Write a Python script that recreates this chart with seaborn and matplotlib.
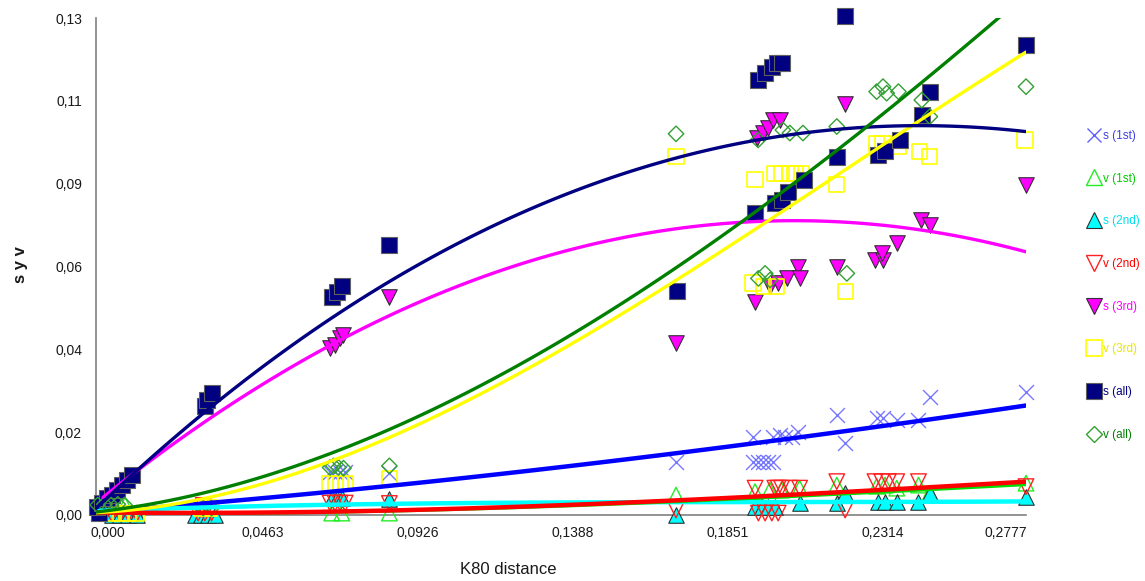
import matplotlib
matplotlib.use('Agg')
import matplotlib.pyplot as plt
import matplotlib.transforms as mtransforms
from matplotlib.lines import Line2D
import numpy as np
import seaborn as sns

# Scatter values (K80 distance, s or v)
s1_x = [0.0005, 0.0020, 0.0040, 0.0699, 0.0714, 0.0729, 0.0744, 0.0876, 0.1732,
        0.1963, 0.2022, 0.2042, 0.2057, 0.2077, 0.2097, 0.1963, 0.1978, 0.1993,
        0.2008, 0.2022, 0.2212, 0.2237, 0.2331, 0.2351, 0.2391, 0.2456, 0.2490, 0.2777]
s1_y = [0.0005, 0.0005, 0.0005, 0.0112, 0.0112, 0.0112, 0.0112, 0.0109, 0.0139,
        0.0204, 0.0204, 0.0209, 0.0204, 0.0204, 0.0217, 0.0139, 0.0139, 0.0139,
        0.0139, 0.0139, 0.0261, 0.0187, 0.0252, 0.0252, 0.0248, 0.0248, 0.0309, 0.0322]

v1_x = [0.0050, 0.0087, 0.0120, 0.0704, 0.0734, 0.0876, 0.1732, 0.1968, 0.2012,
        0.2047, 0.2101, 0.2212, 0.2331, 0.2356, 0.2391, 0.2456, 0.2490, 0.2777]
v1_y = [0.0005, 0.0026, 0.0005, 0.0005, 0.0005, 0.0005, 0.0052, 0.0061, 0.0065,
        0.0065, 0.0070, 0.0078, 0.0075, 0.0078, 0.0070, 0.0078, 0.0057, 0.0083]

s2_x = [0.0047, 0.0072, 0.0097, 0.0122, 0.0295, 0.0315, 0.0335, 0.0355, 0.0704,
        0.0719, 0.0734, 0.0876, 0.1732, 0.1968, 0.1988, 0.2008, 0.2027, 0.2101,
        0.2212, 0.2237, 0.2336, 0.2356, 0.2391, 0.2456, 0.2490, 0.2777]
s2_y = [0.0000, 0.0000, 0.0000, 0.0000, 0.0000, 0.0000, 0.0000, 0.0000, 0.0044,
        0.0044, 0.0044, 0.0042, 0.0000, 0.0021, 0.0021, 0.0021, 0.0021, 0.0030,
        0.0030, 0.0057, 0.0035, 0.0035, 0.0035, 0.0035, 0.0057, 0.0048]

v2_x = [0.0047, 0.0072, 0.0097, 0.0122, 0.0305, 0.0320, 0.0325, 0.0345, 0.0699,
        0.0714, 0.0729, 0.0744, 0.0876, 0.1732, 0.1968, 0.2027, 0.2037, 0.2047,
        0.2072, 0.2101, 0.1978, 0.1998, 0.2018, 0.2037, 0.2212, 0.2237, 0.2326,
        0.2346, 0.2366, 0.2391, 0.2456, 0.2777]
v2_y = [0.0003, 0.0003, 0.0003, 0.0003, 0.0005, 0.0025, 0.0005, 0.0005, 0.0031,
        0.0031, 0.0031, 0.0031, 0.0030, 0.0013, 0.0070, 0.0070, 0.0070, 0.0070,
        0.0070, 0.0070, 0.0005, 0.0005, 0.0005, 0.0005, 0.0087, 0.0013, 0.0087,
        0.0087, 0.0087, 0.0087, 0.0087, 0.0074]

s3_x = [0.0017, 0.0062, 0.0092, 0.0699, 0.0714, 0.0729, 0.0738, 0.0876, 0.1732,
        0.1973, 0.1993, 0.2007, 0.2022, 0.2042, 0.1968, 0.2012, 0.2037, 0.2062,
        0.2097, 0.2101, 0.2212, 0.2237, 0.2326, 0.2351, 0.2346, 0.2391, 0.2463,
        0.2490, 0.2777]
s3_y = [0.0026, 0.0052, 0.0083, 0.0435, 0.0443, 0.0461, 0.0469, 0.0569, 0.0449,
        0.0982, 0.0995, 0.1009, 0.1030, 0.1030, 0.0556, 0.0598, 0.0604, 0.0618,
        0.0648, 0.0618, 0.0648, 0.1073, 0.0665, 0.0665, 0.0683, 0.0709, 0.0769,
        0.0756, 0.0861]

v3_x = [0.0047, 0.0072, 0.0097, 0.0122, 0.0315, 0.0340, 0.0699, 0.0714, 0.0729,
        0.0744, 0.0876, 0.1732, 0.1968, 0.2027, 0.2047, 0.2072, 0.2087, 0.2107,
        0.2212, 0.1962, 0.1992, 0.2033, 0.2237, 0.2331, 0.2350, 0.2396, 0.2460,
        0.2490, 0.2774]
v3_y = [0.0003, 0.0003, 0.0003, 0.0003, 0.0018, 0.0018, 0.0083, 0.0083, 0.0083,
        0.0083, 0.0096, 0.0934, 0.0874, 0.0891, 0.0891, 0.0891, 0.0891, 0.0891,
        0.0861, 0.0605, 0.0595, 0.0595, 0.0582, 0.0969, 0.0969, 0.0960, 0.0948,
        0.0934, 0.0978]

sall_x = [0.0010, 0.0002, 0.0017, 0.0032, 0.0047, 0.0062, 0.0077, 0.0092, 0.0107,
          0.0325, 0.0332, 0.0345, 0.0704, 0.0721, 0.0736, 0.0876, 0.1734, 0.1978,
          0.1998, 0.2018, 0.2033, 0.2048, 0.1968, 0.2027, 0.2047, 0.2067, 0.2113,
          0.2237, 0.2212, 0.2336, 0.2356, 0.2401, 0.2466, 0.2490, 0.2777]
sall_y = [0.0005, 0.0021, 0.0031, 0.0044, 0.0052, 0.0065, 0.0078, 0.0091, 0.0104,
          0.0285, 0.0300, 0.0318, 0.0568, 0.0582, 0.0597, 0.0704, 0.0585, 0.1134,
          0.1152, 0.1169, 0.1178, 0.1178, 0.0787, 0.0813, 0.0822, 0.0843, 0.0874,
          0.1300, 0.0934, 0.0939, 0.0948, 0.0978, 0.1043, 0.1104, 0.1226]

vall_x = [0.0005, 0.0025, 0.0045, 0.0065, 0.0085, 0.0320, 0.0345, 0.0699, 0.0709,
          0.0724, 0.0739, 0.0876, 0.1732, 0.1977, 0.2051, 0.2072, 0.2111, 0.1998,
          0.1978, 0.2013, 0.2242, 0.2212, 0.2331, 0.2350, 0.2361, 0.2396, 0.2466,
          0.2490, 0.2777]
vall_y = [0.0026, 0.0028, 0.0026, 0.0028, 0.0026, 0.0018, 0.0018, 0.0124, 0.0128,
          0.0124, 0.0122, 0.0128, 0.0994, 0.0978, 0.1004, 0.0996, 0.0996, 0.0630,
          0.0617, 0.0613, 0.0630, 0.1013, 0.1104, 0.1117, 0.1100, 0.1104, 0.1082,
          0.1039, 0.1117]

# Trend lines, points (smoothed by regplot, order 3)
s1_tx = [0.0, 0.0122, 0.0549, 0.0818, 0.1296, 0.1654, 0.2251, 0.2777]
s1_ty = [0.0010, 0.0013, 0.0047, 0.0070, 0.0117, 0.0156, 0.0216, 0.0287]
v1_tx = [0.0, 0.0818, 0.1296, 0.1654, 0.2251, 0.2777]
v1_ty = [0.0005, 0.0007, 0.0023, 0.0030, 0.0055, 0.0079]
s2_tx = [0.0, 0.0220, 0.0549, 0.1296, 0.1654, 0.2251, 0.2777]
s2_ty = [0.0010, 0.0017, 0.0026, 0.0030, 0.0034, 0.0035, 0.0035]
v2_tx = [0.0, 0.0818, 0.1296, 0.1654, 0.2251, 0.2777]
v2_ty = [0.0007, 0.0009, 0.0026, 0.0033, 0.0061, 0.0087]
s3_tx = [0.0021, 0.0182, 0.0481, 0.0609, 0.0967, 0.1296, 0.1654, 0.2051, 0.2251, 0.2550, 0.2777]
s3_ty = [0.0040, 0.0162, 0.0334, 0.0396, 0.0556, 0.0660, 0.0735, 0.0767, 0.0764, 0.0735, 0.0683]
v3_tx = [0.0, 0.0131, 0.0281, 0.0490, 0.0848, 0.1296, 0.1693, 0.1953, 0.2251, 0.2550, 0.2777]
v3_ty = [0.0005, 0.0008, 0.0039, 0.0086, 0.0203, 0.0378, 0.0569, 0.0735, 0.0926, 0.1095, 0.1192]
sall_tx = [0.0, 0.0121, 0.0221, 0.0370, 0.0549, 0.0848, 0.1296, 0.1654, 0.1953, 0.2251, 0.2550, 0.2777]
sall_ty = [0.0005, 0.0125, 0.0200, 0.0298, 0.0422, 0.0587, 0.0795, 0.0913, 0.0978, 0.1009, 0.1012, 0.1000]
vall_tx = [0.0, 0.0131, 0.0281, 0.0490, 0.0848, 0.1296, 0.1654, 0.1953, 0.2251, 0.2550, 0.2777]
vall_ty = [0.0013, 0.0018, 0.0047, 0.0096, 0.0222, 0.0404, 0.0595, 0.0777, 0.0990, 0.1180, 0.1360]

labels = ['s (1st)', 'v (1st)', 's (2nd)', 'v (2nd)', 's (3rd)', 'v (3rd)', 's (all)', 'v (all)']
xtick_labels = ['0,000', '0,0463', '0,0926', '0,1388', '0,1851', '0,2314', '0,2777']
ytick_labels = ['0,00', '0,02', '0,04', '0,06', '0,09', '0,11', '0,13']

points = [(s1_x, s1_y), (v1_x, v1_y), (s2_x, s2_y), (v2_x, v2_y),
          (s3_x, s3_y), (v3_x, v3_y), (sall_x, sall_y), (vall_x, vall_y)]
trends = [(s1_tx, s1_ty), (v1_tx, v1_ty), (s2_tx, s2_ty), (v2_tx, v2_ty),
          (s3_tx, s3_ty), (v3_tx, v3_ty), (sall_tx, sall_ty), (vall_tx, vall_ty)]

# marker, size, face, edge, edge width
styles = [('x', 115, None, '#6060ff', 1.0),
          ('^', 125, 'none', '#22ee22', 1.0),
          ('^', 125, '#00ffff', '#303030', 0.8),
          ('v', 125, 'none', '#ff2020', 1.0),
          ('v', 125, '#ff00ff', '#303030', 0.8),
          ('s', 120, 'none', '#ffff00', 1.2),
          ('s', 125, '#000080', '#606060', 0.8),
          ('D', 62, 'none', '#33a033', 1.0)]
line_colors = ['#0000ff', '#00dd00', '#00ffff', '#ff0000', '#ff00ff', '#ffff00', '#000080', '#008000']
line_widths = [3.2, 2.0, 3.2, 3.2, 2.4, 2.4, 2.4, 2.4]
text_colors = ['#4040e0', '#00cc00', '#00e0f0', '#ff0000', '#ff00ff', '#e6e600', '#000080', '#008000']

sns.set_style('white')
plt.rcParams['font.family'] = ['Liberation Sans', 'DejaVu Sans']

fig = plt.figure(figsize=(11.45, 5.81), dpi=100)
ax = fig.add_axes([96 / 1145, 66 / 581, 930 / 1145, 497 / 581])

for (px, py), (mk, sz, fc, ec, lw) in zip(points, styles):
    if fc is None:
        sns.scatterplot(x=px, y=py, ax=ax, marker=mk, s=sz, color=ec,
                        linewidth=lw, alpha=0.85, clip_on=False, zorder=3, legend=False)
    else:
        sns.scatterplot(x=px, y=py, ax=ax, marker=mk, s=sz, facecolor=fc,
                        edgecolor=ec, linewidth=lw, clip_on=False, zorder=3, legend=False)

# Polynomial trend lines, drawn after the markers like in the original
order = [0, 2, 1, 3, 4, 5, 6, 7]
for i in order:
    tx, ty = trends[i]
    sns.regplot(x=np.array(tx), y=np.array(ty), ax=ax, order=3, ci=None, scatter=False,
                truncate=True,
                line_kws=dict(color=line_colors[i], linewidth=line_widths[i], zorder=4))

ax.set_xlim(0, 0.2777)
ax.set_ylim(0, 0.1296)
ax.set_xticks(np.linspace(0, 0.2777, 7))
ax.set_xticklabels(xtick_labels)
ax.set_yticks(np.linspace(0, 0.1296, 7))
ax.set_yticklabels(ytick_labels)
ax.tick_params(axis='both', direction='in', length=7, width=1, color='#808080',
               labelsize=10, labelcolor='#1a1a1a')
ax.tick_params(axis='y', pad=10)
ax.tick_params(axis='x', pad=8)

# Excel-like placement of the x tick labels
for i, lab in enumerate(ax.get_xticklabels()):
    dx = 12 if i < 6 else -20
    lab.set_transform(lab.get_transform() +
                      mtransforms.ScaledTranslation(dx / 100, 0, fig.dpi_scale_trans))

for side in ['top', 'right']:
    ax.spines[side].set_visible(False)
for side in ['left', 'bottom']:
    ax.spines[side].set_color('#808080')
    ax.spines[side].set_linewidth(1.2)

ax.set_xlabel('K80 distance', fontsize=12, color='#1a1a1a')
ax.xaxis.set_label_coords(0.443, -0.095)
ax.set_ylabel('s y v', fontsize=12, fontweight='bold', color='#1a1a1a')
ax.yaxis.set_label_coords(-0.073, 0.503)

handles = []
for mk, sz, fc, ec, lw in styles:
    handles.append(Line2D([], [], linestyle='none', marker=mk,
                          markersize=np.sqrt(sz),
                          markerfacecolor=(ec if fc is None else fc),
                          markeredgecolor=ec, markeredgewidth=lw))
fig.legend(handles, labels, loc='upper left', bbox_to_anchor=(1082 / 1145, 1 - 124 / 581),
           frameon=False, fontsize=8.5, labelspacing=2.6, handlelength=1.0,
           handletextpad=0.3, borderpad=0, labelcolor=text_colors)

plt.savefig('out.png', dpi=100)
